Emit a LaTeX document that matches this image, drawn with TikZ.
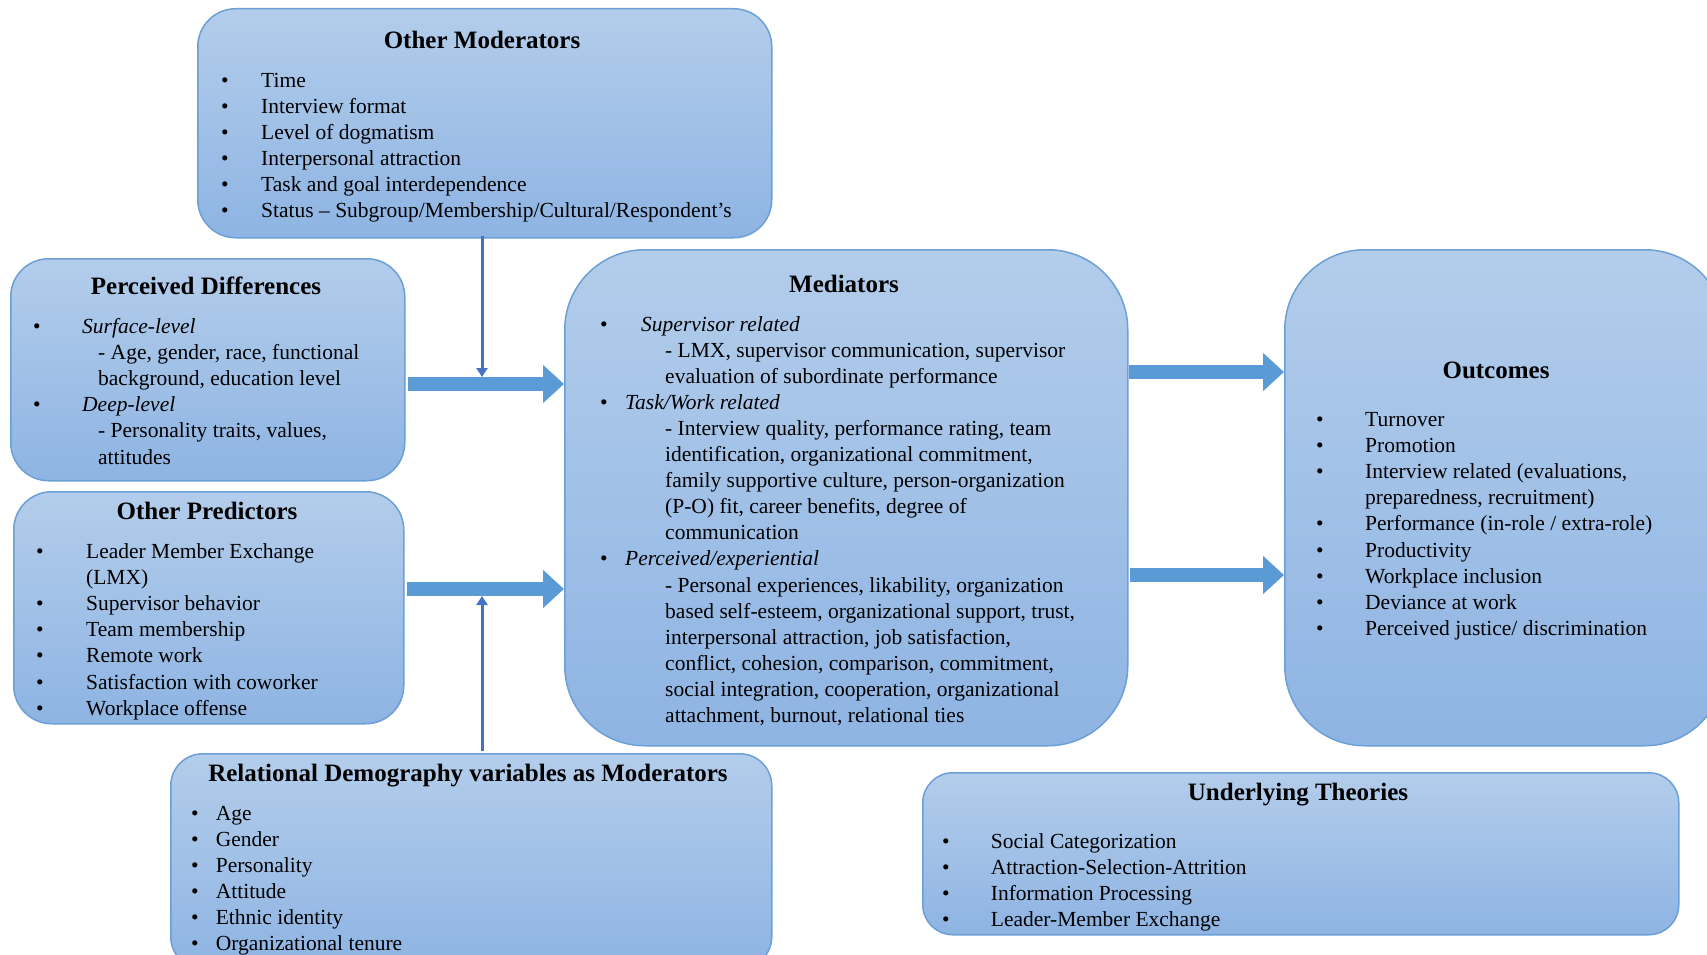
\documentclass[tikz,border=0pt]{standalone}
\usepackage{fontspec}
\setmainfont{Liberation Serif}
\usetikzlibrary{arrows.meta,calc}
\definecolor{boxtop}{HTML}{B3CDEB}
\definecolor{boxbot}{HTML}{8EB4E3}
\definecolor{boxline}{HTML}{6C9FD6}
\definecolor{bigarrow}{HTML}{5B9BD5}
\definecolor{thinarrow}{HTML}{4472C4}
\tikzset{
  panel/.style={draw=boxline, line width=1.5pt, top color=boxtop, bottom color=boxbot, anchor=north west, inner sep=0pt},
  ttl/.style={font=\fontsize{25}{30}\selectfont\bfseries, inner sep=0pt, anchor=base},
  body/.style={anchor=base west, inner sep=0pt, font=\fontsize{21.5}{26.1}\selectfont},
  bigarr/.style={bigarrow, line width=14pt, -{Triangle[width=37pt,length=21pt]}},
  thinarr/.style={thinarrow, line width=3pt, -{Triangle[width=11pt,length=9pt]}},
}
\begin{document}
\begin{tikzpicture}[x=1pt,y=-1pt]
\useasboundingbox (0,0) rectangle (1707,955);
\clip (0,0) rectangle (1707,955);
% panels
\node[panel, rounded corners=38pt, minimum width=574pt, minimum height=229pt] (om) at (197,8) {};
\node[panel, rounded corners=38pt, minimum width=394pt, minimum height=222pt] (pd) at (10,258) {};
\node[panel, rounded corners=38pt, minimum width=390pt, minimum height=232pt] (op) at (13,491) {};
\node[panel, rounded corners=80pt, minimum width=563pt, minimum height=496pt] (med) at (564,249) {};
\node[panel, rounded corners=80pt, minimum width=440pt, minimum height=496pt] (out) at (1284,249) {};
\node[panel, rounded corners=32pt, minimum width=601pt, minimum height=215pt] (rd) at (170,753) {};
\node[panel, rounded corners=30pt, minimum width=756pt, minimum height=162pt] (ut) at (922,772) {};
% titles
\node[ttl] (omt) at (482,48.5) {Other Moderators};
\node[ttl] (pdt) at (206,294.5) {Perceived Differences};
\node[ttl] (opt) at (207,519) {Other Predictors};
\node[ttl] (medt) at (844,292.5) {Mediators};
\node[ttl] (outt) at (1496,378.5) {Outcomes};
\node[ttl] (rdt) at (468,781.5) {Relational Demography variables as Moderators};
\node[ttl] (utt) at (1298,800) {Underlying Theories};
% bodies
\node[body] (omb) at (221,87.5) {\begin{tabular}[t]{@{}p{40pt}@{}l@{}}
\textbullet & Time\\
\textbullet & Interview format\\
\textbullet & Level of dogmatism\\
\textbullet & Interpersonal attraction\\
\textbullet & Task and goal interdependence\\
\textbullet & Status – Subgroup/Membership/Cultural/Respondent’s
\end{tabular}};
\node[body] (pdb) at (33,333.5) {\begin{tabular}[t]{@{}p{49pt}@{}l@{}}
\textbullet & \textit{Surface-level}\\
 & \hspace{16pt}- Age, gender, race, functional\\
 & \hspace{16pt}background, education level\\
\textbullet & \textit{Deep-level}\\
 & \hspace{16pt}- Personality traits, values,\\
 & \hspace{16pt}attitudes
\end{tabular}};
\node[body] (opb) at (36,558.5) {\begin{tabular}[t]{@{}p{50pt}@{}l@{}}
\textbullet & Leader Member Exchange\\
 & (LMX)\\
\textbullet & Supervisor behavior\\
\textbullet & Team membership\\
\textbullet & Remote work\\
\textbullet & Satisfaction with coworker\\
\textbullet & Workplace offense
\end{tabular}};
\node[body] (medb) at (600,331) {\begin{tabular}[t]{@{}p{25pt}@{}l@{}}
\textbullet & \hspace{16pt}\textit{Supervisor related}\\
 & \hspace{40pt}- LMX, supervisor communication, supervisor\\
 & \hspace{40pt}evaluation of subordinate performance\\
\textbullet & \textit{Task/Work related}\\
 & \hspace{40pt}- Interview quality, performance rating, team\\
 & \hspace{40pt}identification, organizational commitment,\\
 & \hspace{40pt}family supportive culture, person-organization\\
 & \hspace{40pt}(P-O) fit, career benefits, degree of\\
 & \hspace{40pt}communication\\
\textbullet & \textit{Perceived/experiential}\\
 & \hspace{40pt}- Personal experiences, likability, organization\\
 & \hspace{40pt}based self-esteem, organizational support, trust,\\
 & \hspace{40pt}interpersonal attraction, job satisfaction,\\
 & \hspace{40pt}conflict, cohesion, comparison, commitment,\\
 & \hspace{40pt}social integration, cooperation, organizational\\
 & \hspace{40pt}attachment, burnout, relational ties
\end{tabular}};
\node[body] (outb) at (1316,426.5) {\begin{tabular}[t]{@{}p{49pt}@{}l@{}}
\textbullet & Turnover\\
\textbullet & Promotion\\
\textbullet & Interview related (evaluations,\\
 & preparedness, recruitment)\\
\textbullet & Performance (in-role / extra-role)\\
\textbullet & Productivity\\
\textbullet & Workplace inclusion\\
\textbullet & Deviance at work\\
\textbullet & Perceived justice/ discrimination
\end{tabular}};
\node[body] (rdb) at (191,820) {\begin{tabular}[t]{@{}p{24.6pt}@{}l@{}}
\textbullet & Age\\
\textbullet & Gender\\
\textbullet & Personality\\
\textbullet & Attitude\\
\textbullet & Ethnic identity\\
\textbullet & Organizational tenure
\end{tabular}};
\node[body] (utb) at (942,848.5) {\begin{tabular}[t]{@{}p{48.7pt}@{}l@{}}
\textbullet & Social Categorization\\
\textbullet & Attraction-Selection-Attrition\\
\textbullet & Information Processing\\
\textbullet & Leader-Member Exchange
\end{tabular}};
% connectors
\coordinate (y1) at (0,384);
\coordinate (y2) at (0,589);
\coordinate (y3) at (0,372);
\coordinate (y4) at (0,575);
\coordinate (j1) at (482,377);
\coordinate (j2) at (482,596);
\draw[bigarr] (pd.east |- y1) ++(2,0) -- (med.west |- y1);
\draw[bigarr] (op.east |- y2) ++(2,0) -- (med.west |- y2);
\draw[bigarr] (med.east |- y3) -- (out.west |- y3);
\draw[bigarr] (med.east |- y4) ++(1,0) -- (out.west |- y4);
\draw[thinarr] (om.south -| j1) ++(0,-3) -- (j1);
\draw[thinarr] (rd.north -| j2) ++(0,-2) -- (j2);
\end{tikzpicture}
\end{document}
